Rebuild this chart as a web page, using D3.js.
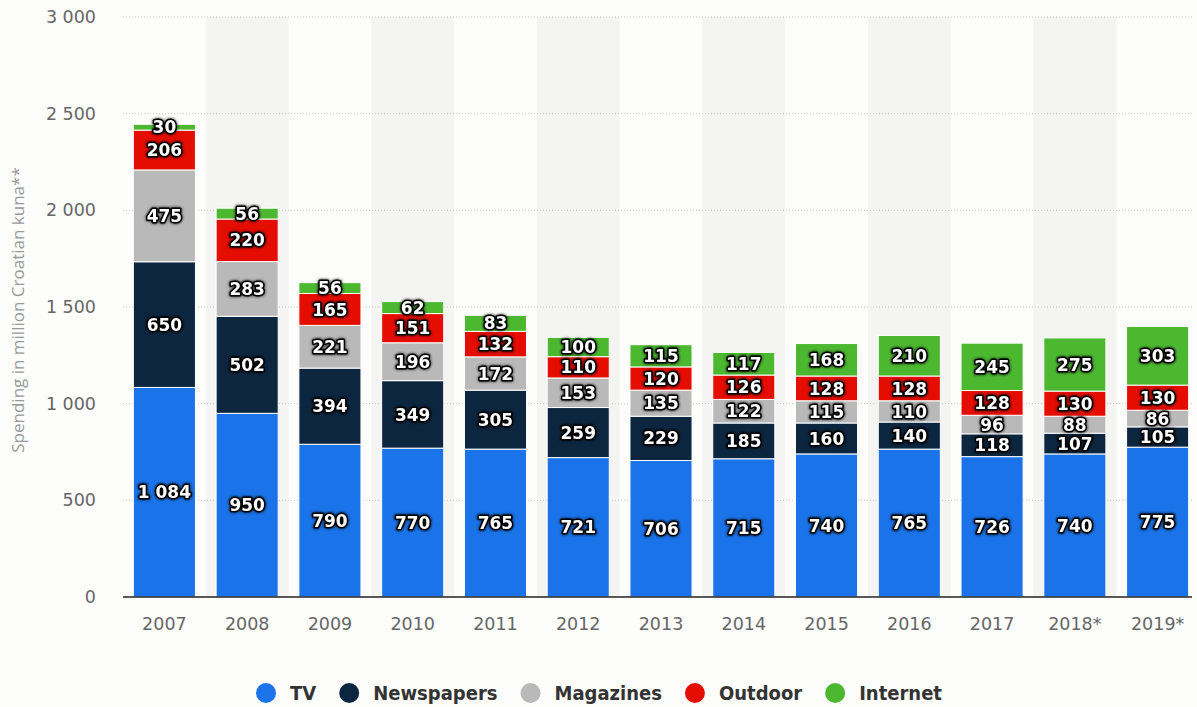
<!DOCTYPE html>
<html>
<head>
<meta charset="utf-8">
<script src="https://cdn.jsdelivr.net/npm/d3@7"></script>
<style>
  html, body { margin: 0; padding: 0; background: #fdfdfb; }
  svg { display: block; }
</style>
</head>
<body>
<svg id="chart" width="1197" height="707"></svg>
<script>
const years = ["2007","2008","2009","2010","2011","2012","2013","2014","2015","2016","2017","2018*","2019*"];
const seriesNames = ["TV","Newspapers","Magazines","Outdoor","Internet"];
const tv         = [1084, 950, 790, 770, 765, 721, 706, 715, 740, 765, 726, 740, 775];
const newspapers = [650, 502, 394, 349, 305, 259, 229, 185, 160, 140, 118, 107, 105];
const magazines  = [475, 283, 221, 196, 172, 153, 135, 122, 115, 110, 96, 88, 86];
const outdoor    = [206, 220, 165, 151, 132, 110, 120, 126, 128, 128, 128, 130, 130];
const internet   = [30, 56, 56, 62, 83, 100, 115, 117, 168, 210, 245, 275, 303];
const yTicks = [0, 500, 1000, 1500, 2000, 2500, 3000];
const colors = ["#1a73e8", "#0c2640", "#b9b9b9", "#e50c00", "#4cb830"];
const yTitle = "Spending in million Croatian kuna**";

const seriesValues = [tv, newspapers, magazines, outdoor, internet];
const table = years.map((y, i) => {
  const row = { year: y };
  seriesNames.forEach((s, k) => row[s] = seriesValues[k][i]);
  return row;
});

const svg = d3.select("#chart");
const x = d3.scaleBand().domain(years).range([123, 1199]).paddingInner(0.25).paddingOuter(0.125);
const y = d3.scaleLinear().domain([0, 3000]).range([597, 17]);
const fmt = v => d3.format(",")(v).replace(/,/g, " ");

// alternating column backgrounds
const step = x.step();
svg.append("g").selectAll("rect")
  .data(years.filter((d, i) => i % 2 === 1))
  .join("rect")
  .attr("x", d => x(d) - step * 0.125)
  .attr("width", step)
  .attr("y", y(3000))
  .attr("height", y(0) - y(3000))
  .attr("fill", "#f4f4f2");

// gridlines
svg.append("g").selectAll("line")
  .data(yTicks.filter(t => t > 0))
  .join("line")
  .attr("x1", 123).attr("x2", 1192)
  .attr("y1", d => y(d)).attr("y2", d => y(d))
  .attr("stroke", "#c8c8c8")
  .attr("stroke-width", 1)
  .attr("stroke-dasharray", "1,2");

// y axis tick labels
const yAxis = d3.axisLeft(y).tickValues(yTicks).tickFormat(fmt).tickSize(0).tickPadding(0);
const yg = svg.append("g").attr("transform", "translate(96,0)").call(yAxis);
yg.select(".domain").remove();
yg.selectAll("text")
  .attr("fill", "#666")
  .attr("font-family", "DejaVu Sans, sans-serif")
  .attr("font-size", 17.5);

// y title
svg.append("text")
  .attr("transform", `translate(24,${(y(0) + y(3000)) / 2 + 3}) rotate(-90)`)
  .attr("text-anchor", "middle")
  .attr("fill", "#999")
  .attr("font-family", "Open Sans, sans-serif")
  .attr("font-size", 17)
  .text(yTitle);

// stacked bars
const stack = d3.stack().keys(seriesNames)(table);
const layers = svg.append("g").selectAll("g")
  .data(stack)
  .join("g")
  .attr("fill", (d, i) => colors[i]);
layers.selectAll("rect")
  .data(d => d)
  .join("rect")
  .attr("x", d => x(d.data.year))
  .attr("width", x.bandwidth())
  .attr("y", d => y(d[1]))
  .attr("height", d => y(d[0]) - y(d[1]))
  .attr("stroke", "#ffffff")
  .attr("stroke-width", 1);

// baseline
svg.append("line")
  .attr("x1", 123).attr("x2", 1192)
  .attr("y1", y(0)).attr("y2", y(0))
  .attr("stroke", "#222").attr("stroke-width", 1.5);

// x axis labels
const xAxis = d3.axisBottom(x).tickSize(0).tickPadding(0);
const xg = svg.append("g").attr("transform", `translate(0,${y(0) + 33})`).call(xAxis);
xg.select(".domain").remove();
xg.selectAll("text")
  .attr("dy", 0)
  .attr("fill", "#666")
  .attr("font-family", "DejaVu Sans, sans-serif")
  .attr("font-size", 17.5);

// data labels
const defs = svg.append("defs");
const f = defs.append("filter").attr("id", "shadow").attr("x", "-20%").attr("y", "-40%").attr("width", "140%").attr("height", "180%");
f.append("feDropShadow").attr("dx", 0).attr("dy", 0).attr("stdDeviation", 1.4).attr("flood-color", "#000").attr("flood-opacity", 1);

const labelG = svg.append("g");
stack.forEach(layer => {
  labelG.append("g").selectAll("text")
    .data(layer)
    .join("text")
    .attr("x", d => x(d.data.year) + x.bandwidth() / 2)
    .attr("y", d => (y(d[0]) + y(d[1])) / 2)
    .attr("dy", "0.36em")
    .attr("text-anchor", "middle")
    .attr("font-family", "DejaVu Sans, sans-serif")
    .attr("font-weight", "bold")
    .attr("font-size", 17)
    .attr("fill", "#fff")
    .attr("stroke", "#000")
    .attr("stroke-width", 3)
    .attr("stroke-linejoin", "round")
    .attr("paint-order", "stroke")
    .attr("filter", "url(#shadow)")
    .text(d => fmt(d[1] - d[0]));
});

// legend
const legend = svg.append("g").attr("transform", "translate(0,693)");
let cx = 266;
seriesNames.forEach((name, i) => {
  const g = legend.append("g");
  g.append("circle").attr("cx", cx).attr("cy", 0).attr("r", 10).attr("fill", colors[i]);
  const t = g.append("text")
    .attr("x", cx + 24)
    .attr("y", 0)
    .attr("dy", "0.36em")
    .attr("fill", "#333")
    .attr("font-family", "DejaVu Sans Condensed, DejaVu Sans, sans-serif")
    .attr("font-weight", "bold")
    .attr("font-size", 20)
    .text(name);
  const w = t.node().getComputedTextLength();
  cx = cx + 24 + w + 33;
});
</script>
</body>
</html>
